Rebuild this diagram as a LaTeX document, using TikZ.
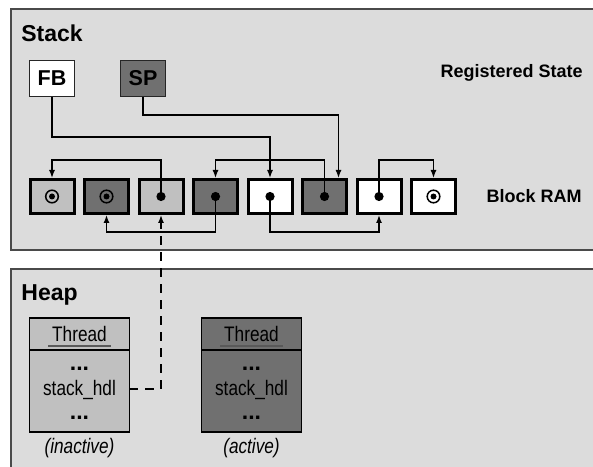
\documentclass[tikz,border=0pt]{standalone}
\usepackage{fontspec}
\setmainfont{Liberation Sans}
\newfontfamily\narrowfont[FakeStretch=0.82]{Liberation Sans}
\usetikzlibrary{arrows.meta,positioning,shapes,calc}

\definecolor{panelgray}{HTML}{DCDCDC}
\definecolor{lightcell}{HTML}{C0C0C0}
\definecolor{darkcell}{HTML}{707070}
\definecolor{edgegray}{HTML}{4A4A4A}

\begin{document}
\begin{tikzpicture}[x=1pt, y=1pt, thick]

		\tikzstyle{panel}=[draw=edgegray, line width=1.5pt, fill=panelgray]
		\tikzstyle{title}=[anchor=base west, inner sep=0pt, font=\fontsize{23}{26}\selectfont\bfseries]
		\tikzstyle{side}=[inner sep=0pt, font=\fontsize{18}{20}\selectfont\bfseries]
		\tikzstyle{reg}=[rectangle, draw=black!85, line width=1.3pt, minimum width=44.5pt, minimum height=35.5pt, inner sep=0pt, font=\fontsize{21.5}{24}\selectfont\bfseries]
		\tikzstyle{cell}=[rectangle, draw=black, line width=3pt, minimum width=44pt, minimum height=34pt, inner sep=0pt]
		\tikzstyle{ptr}=[-{Latex[length=8pt,width=6pt]}, black, line width=1.4pt]
		\tikzstyle{hdr}=[rectangle, draw=black, line width=1.3pt, outer sep=0pt, minimum width=99.5pt, minimum height=32pt, inner sep=0pt, font=\narrowfont\fontsize{21}{24}\selectfont]
		\tikzstyle{body}=[rectangle, draw=black, line width=1.3pt, outer sep=0pt, minimum width=99.5pt, minimum height=82pt]
		\tikzstyle{field}=[anchor=base, inner sep=0pt, font=\narrowfont\fontsize{21}{24}\selectfont]
		\tikzstyle{more}=[anchor=base, inner sep=0pt, font=\fontsize{23}{24}\selectfont\bfseries]

		\clip (0,0) rectangle (593,466);

		% Panels
		\draw[panel] (11,216) rectangle (612,457);
		\draw[panel] (11,-20) rectangle (612,197);
		\node[title] (stacklbl) at (21,424) {Stack};
		\node[title] (heaplbl) at (21,165.5) {Heap};

		% Registered state
		\node[reg, fill=white] (fb) at (52,387.5) {FB};
		\node[reg, fill=darkcell] (sp) at (143,387.5) {SP};
		\node[side, anchor=base east] (reglbl) at (583,388.5) {Registered State};

		% Block RAM
		\foreach \f [count=\i] in {lightcell,darkcell,lightcell,darkcell,white,darkcell,white,white}
			\node[cell, fill=\f] (c\i) at ({52+54.5*(\i-1)},269.5) {};
		\node[side, anchor=east] (ramlbl) at (582,270) {Block RAM};

		% Links between frames
		\draw[ptr] (c3.center) -- ++(0,36.5) -| (c1.north);
		\draw[ptr] (c6.center) -- ++(0,36.5) -| (c4.north);
		\draw[ptr] (c7.center) -- ++(0,36.5) -| (c8.north);
		\draw[ptr] (c4.center) -- ++(0,-35.5) -| (c2.south);
		\draw[ptr] (c5.center) -- ++(0,-35.5) -| (c7.south);
		\draw[ptr] (fb.south) -- ++(0,-40) -| (c5.north);
		\draw[ptr] (sp.south) -- ++(0,-18) -| ([xshift=14pt]c6.north);

		\foreach \i in {3,...,7}
			\fill (c\i) circle (4.6pt);
		\foreach \i in {1,2,8} {
			\draw[line width=1.5pt] (c\i) circle (6.3pt);
			\fill (c\i) circle (3pt);
		}

		% Threads
		\node[hdr, fill=lightcell] (th1) at (79.5,132) {Thread};
		\node[body, fill=lightcell, below=0pt of th1] (tb1) {};
		\node[hdr, fill=darkcell] (th2) at (251.5,132) {Thread};
		\node[body, fill=darkcell, below=0pt of th2] (tb2) {};
		\foreach \n in {1,2} {
			\draw[black!65, line width=1.3pt] ($(th\n.center)+(-31.5,-12)$) -- ++(63,0);
			\node[more] (ma\n) at ([yshift=21pt]tb\n.center) {...};
			\node[field] (hdl\n) at ([yshift=-4.7pt]tb\n.center) {stack\_hdl};
			\node[more] (mb\n) at ([yshift=-28pt]tb\n.center) {...};
		}
		\node[field] (st1) at ([yshift=-21pt]tb1.south) {\itshape (inactive)};
		\node[field] (st2) at ([yshift=-21pt]tb2.south) {\itshape (active)};

		% Handle of the inactive thread
		\draw[ptr, dash pattern=on 9pt off 7pt] ($(tb1.east |- hdl1.mid)+(0,4)$) -| (c3.south);

\end{tikzpicture}
\end{document}
